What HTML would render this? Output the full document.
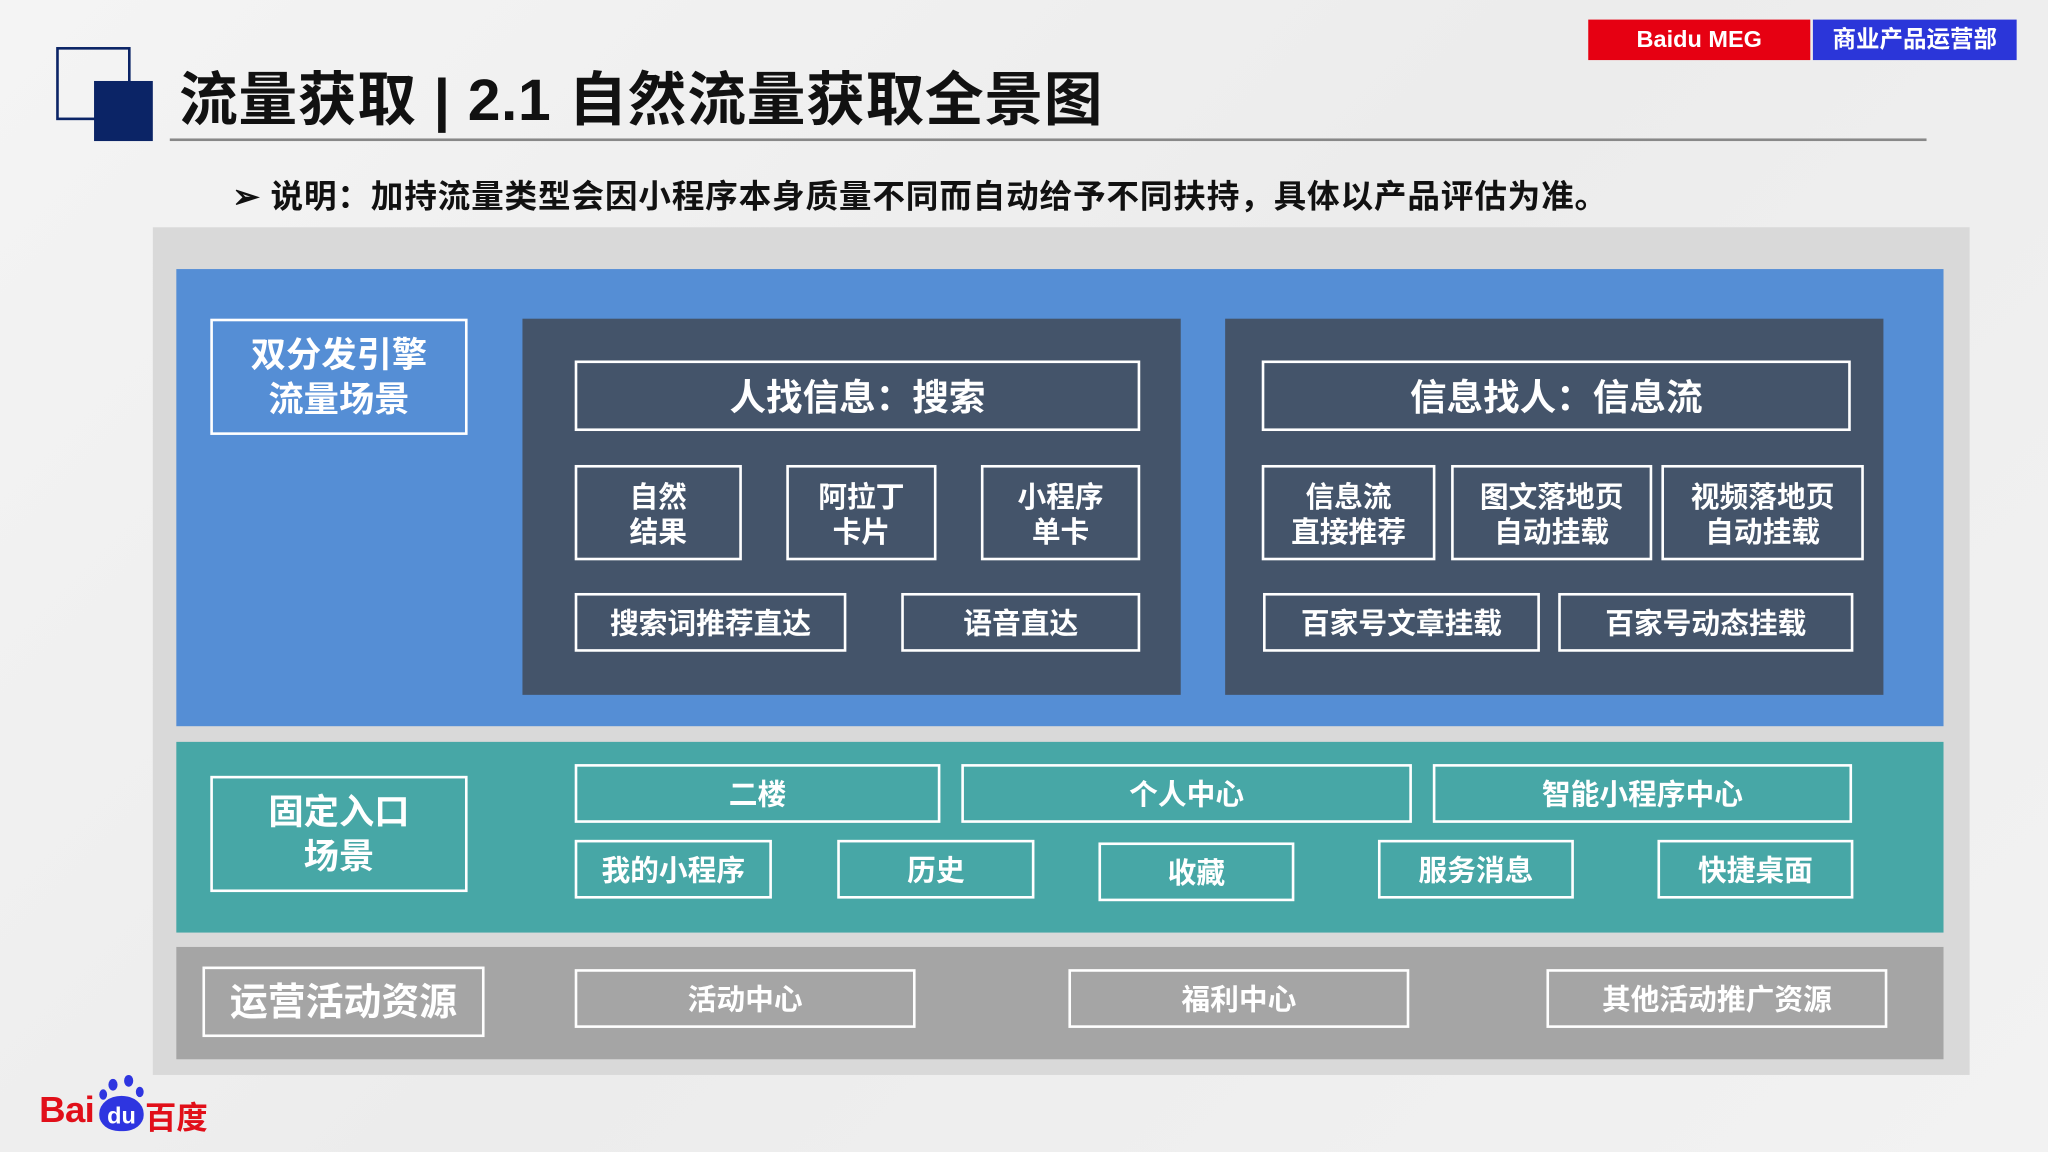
<!DOCTYPE html>
<html><head><meta charset="utf-8"><style>
html,body{margin:0;padding:0;width:2048px;height:1152px;overflow:hidden;background:#f0f0f0}
#s{position:absolute;left:0;top:0;width:1568px;height:882px;transform:scale(1.306122);transform-origin:0 0;font-family:"Liberation Sans","Noto Sans CJK SC",sans-serif;font-weight:bold}
.a{position:absolute;box-sizing:border-box}
.b{position:absolute;box-sizing:border-box;border:2px solid #fff;color:#fff;display:flex;align-items:center;justify-content:center;text-align:center;line-height:1.25;font-size:22px;padding-top:3px}
</style></head><body><div id="s">
<div class="a" style="left:0;top:0;width:1568px;height:882px;background:linear-gradient(135deg,#f4f4f4,#ececec 50%,#f2f2f2)"></div>
<div class="a" style="left:43px;top:36px;width:57px;height:56px;border:2px solid #0b2466"></div>
<div class="a" style="left:72px;top:62px;width:45px;height:46px;background:#0b2466"></div>
<div class="a" style="left:137px;top:40px;font-size:45px;color:#111;white-space:nowrap;letter-spacing:0.5px">流量获取 | 2.1 自然流量获取全景图</div>
<div class="a" style="left:130px;top:106px;width:1345px;height:2px;background:#888"></div>
<div class="a" style="left:1216px;top:15px;width:170px;height:31px;background:#e60012;color:#fff;font-size:18px;text-align:center;line-height:31px">Baidu MEG</div>
<div class="a" style="left:1388px;top:15px;width:156px;height:31px;background:#2b36d9;color:#fff;font-size:18px;text-align:center;line-height:31px">商业产品运营部</div>
<div class="a" style="left:178px;top:131px;font-size:25px;color:#111;white-space:nowrap;letter-spacing:0.6px">➢ 说明：加持流量类型会因小程序本身质量不同而自动给予不同扶持，具体以产品评估为准。</div>

<div class="a" style="left:117px;top:174px;width:1391px;height:649px;background:#d9d9d9"></div>
<div class="a" style="left:135px;top:206px;width:1353px;height:350px;background:#558ed5"></div>
<div class="b" style="left:161px;top:244px;width:197px;height:89px;font-size:27px">双分发引擎<br>流量场景</div>
<div class="a" style="left:400px;top:244px;width:504px;height:288px;background:#44546a"></div>
<div class="a" style="left:938px;top:244px;width:504px;height:288px;background:#44546a"></div>
<div class="b" style="left:440px;top:276px;width:433px;height:54px;font-size:28px">人找信息：搜索</div>
<div class="b" style="left:440px;top:356px;width:128px;height:73px">自然<br>结果</div>
<div class="b" style="left:602px;top:356px;width:115px;height:73px">阿拉丁<br>卡片</div>
<div class="b" style="left:751px;top:356px;width:122px;height:73px">小程序<br>单卡</div>
<div class="b" style="left:440px;top:454px;width:208px;height:45px">搜索词推荐直达</div>
<div class="b" style="left:690px;top:454px;width:183px;height:45px">语音直达</div>
<div class="b" style="left:966px;top:276px;width:451px;height:54px;font-size:28px">信息找人：信息流</div>
<div class="b" style="left:966px;top:356px;width:133px;height:73px">信息流<br>直接推荐</div>
<div class="b" style="left:1111px;top:356px;width:154px;height:73px">图文落地页<br>自动挂载</div>
<div class="b" style="left:1272px;top:356px;width:155px;height:73px">视频落地页<br>自动挂载</div>
<div class="b" style="left:967px;top:454px;width:212px;height:45px">百家号文章挂载</div>
<div class="b" style="left:1193px;top:454px;width:226px;height:45px">百家号动态挂载</div>

<div class="a" style="left:135px;top:568px;width:1353px;height:146px;background:#47a7a6"></div>
<div class="b" style="left:161px;top:594px;width:197px;height:89px;font-size:27px">固定入口<br>场景</div>
<div class="b" style="left:440px;top:585px;width:280px;height:45px">二楼</div>
<div class="b" style="left:736px;top:585px;width:345px;height:45px">个人中心</div>
<div class="b" style="left:1097px;top:585px;width:321px;height:45px">智能小程序中心</div>
<div class="b" style="left:440px;top:643px;width:151px;height:45px">我的小程序</div>
<div class="b" style="left:641px;top:643px;width:151px;height:45px">历史</div>
<div class="b" style="left:841px;top:645px;width:150px;height:45px">收藏</div>
<div class="b" style="left:1055px;top:643px;width:150px;height:45px">服务消息</div>
<div class="b" style="left:1269px;top:643px;width:150px;height:45px">快捷桌面</div>

<div class="a" style="left:135px;top:725px;width:1353px;height:86px;background:#a5a5a5"></div>
<div class="b" style="left:155px;top:740px;width:216px;height:54px;font-size:29px">运营活动资源</div>
<div class="b" style="left:440px;top:742px;width:261px;height:45px">活动中心</div>
<div class="b" style="left:818px;top:742px;width:261px;height:45px">福利中心</div>
<div class="b" style="left:1184px;top:742px;width:261px;height:45px">其他活动推广资源</div>

<div class="a" style="left:30px;top:834px;font-size:28px;color:#e10f19;letter-spacing:-0.5px">Bai</div>
<div class="a" style="left:76px;top:839px;width:34px;height:27px;border-radius:50% 50% 45% 45%;background:#2e35e0;color:#fff;font-size:18px;text-align:center;line-height:31px">du</div>
<div class="a" style="left:83px;top:826px;width:7px;height:9px;border-radius:50%;background:#2e35e0"></div>
<div class="a" style="left:95px;top:823px;width:7px;height:9px;border-radius:50%;background:#2e35e0"></div>
<div class="a" style="left:76px;top:834px;width:6px;height:8px;border-radius:50%;background:#2e35e0"></div>
<div class="a" style="left:104px;top:832px;width:6px;height:8px;border-radius:50%;background:#2e35e0"></div>
<div class="a" style="left:111px;top:836px;font-size:24px;color:#e10f19">百度</div>
</div></body></html>
